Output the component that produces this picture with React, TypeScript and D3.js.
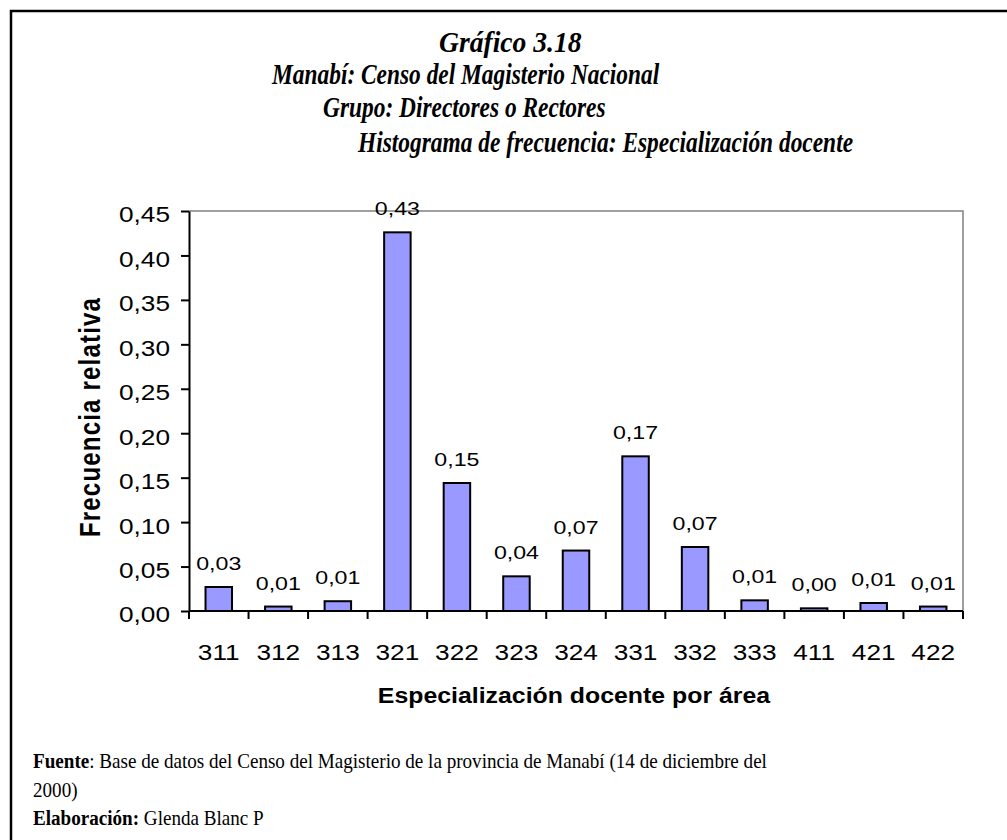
import React, { useEffect, useRef } from "react";
import * as d3 from "d3";

const categories = ["311", "312", "313", "321", "322", "323", "324", "331", "332", "333", "411", "421", "422"];
const values = [0.027, 0.005, 0.011, 0.426, 0.144, 0.039, 0.068, 0.174, 0.072, 0.012, 0.003, 0.009, 0.005];
const valueLabels = ["0,03", "0,01", "0,01", "0,43", "0,15", "0,04", "0,07", "0,17", "0,07", "0,01", "0,00", "0,01", "0,01"];
const yTicks = [0, 0.05, 0.1, 0.15, 0.2, 0.25, 0.3, 0.35, 0.4, 0.45];
const titleLines = [
  "Gráfico 3.18",
  "Manabí: Censo del Magisterio Nacional",
  "Grupo: Directores o Rectores",
  "Histograma de frecuencia: Especialización docente",
];
const yTitle = "Frecuencia relativa";
const xTitle = "Especialización docente por área";
const sourceBold = "Fuente";
const sourceText = ": Base de datos del Censo del Magisterio de la provincia de Manabí (14 de diciembre del";
const sourceText2 = "2000)";
const authorBold = "Elaboración";
const authorText = ": Glenda Blanc P";

const SANS = "'Liberation Sans', Arial, sans-serif";
const SERIF = "'Liberation Serif', 'Times New Roman', serif";

export default function App() {
  const ref = useRef<SVGSVGElement>(null);

  useEffect(() => {
    const W = 1007, H = 840;
    const svg = d3.select(ref.current);
    svg.selectAll("*").remove();
    const m = { left: 189, right: 963, top: 211, bottom: 611 };
    const sx = 1.22;

    svg.append("rect").attr("width", W).attr("height", H).attr("fill", "#fff");
    svg.append("path").attr("d", `M11,${H + 5}V11H${W + 5}`).attr("fill", "none")
      .attr("stroke", "#000").attr("stroke-width", 2.5);

    const tpos = [
      { x: 439, y: 52, s: 0.92 },
      { x: 272, y: 84, s: 0.78 },
      { x: 323, y: 117, s: 0.78 },
      { x: 358, y: 152, s: 0.78 },
    ];
    titleLines.forEach((t, i) => {
      svg.append("text").attr("transform", `translate(${tpos[i].x},${tpos[i].y}) scale(${tpos[i].s},1)`)
        .attr("font-family", SERIF).attr("font-weight", "bold").attr("font-style", "italic")
        .attr("font-size", 30).attr("fill", "#000").text(t);
    });

    const x = d3.scaleBand<string>().domain(categories).range([m.left, m.right])
      .paddingInner(0.555).paddingOuter(0.2775);
    const y = d3.scaleLinear().domain([0, 0.45]).range([m.bottom, m.top]);

    svg.append("path").attr("d", `M${m.left},${m.top}H${m.right}V${m.bottom}`)
      .attr("fill", "none").attr("stroke", "#808080").attr("stroke-width", 1.5);

    svg.append("g").selectAll("rect").data(values).join("rect")
      .attr("x", (_d, i) => x(categories[i]) as number)
      .attr("y", (d) => y(d))
      .attr("width", x.bandwidth())
      .attr("height", (d) => y(0) - y(d))
      .attr("fill", "#9999FF").attr("stroke", "#000").attr("stroke-width", 2);

    // y axis
    const fmt = (d: number) => d3.format(".2f")(d).replace(".", ",");
    const gy = svg.append("g").attr("transform", `translate(${m.left},0)`)
      .call(d3.axisLeft(y).tickValues(yTicks).tickSize(8).tickSizeOuter(0).tickFormat(fmt as any));
    gy.attr("font-family", SANS).attr("font-size", 21.5);
    gy.select(".domain").attr("stroke", "#000").attr("stroke-width", 2);
    gy.selectAll(".tick line").attr("stroke", "#000").attr("stroke-width", 2);
    gy.selectAll(".tick text").attr("x", 0).attr("dy", "0.32em").attr("fill", "#000")
      .attr("transform", `translate(-19,4) scale(${sx},1)`);

    // x axis
    const gx = svg.append("g").attr("transform", `translate(0,${m.bottom})`)
      .call(d3.axisBottom(x).tickSize(0).tickPadding(0));
    gx.attr("font-family", SANS).attr("font-size", 21.5);
    gx.select(".domain").remove();
    gx.selectAll(".tick text").attr("y", 0).attr("dy", 0).attr("fill", "#000")
      .attr("transform", `translate(0,49) scale(${sx},1)`);
    gx.append("line").attr("x1", m.left).attr("x2", m.right).attr("y1", 0).attr("y2", 0)
      .attr("stroke", "#000").attr("stroke-width", 2);
    gx.selectAll("line.bound").data(d3.range(categories.length + 1)).join("line")
      .attr("class", "bound")
      .attr("x1", (i) => m.left + i * x.step()).attr("x2", (i) => m.left + i * x.step())
      .attr("y1", 0).attr("y2", 8).attr("stroke", "#000").attr("stroke-width", 2);

    // data labels
    svg.append("g").selectAll("text").data(values).join("text")
      .attr("transform", (d, i) => `translate(${(x(categories[i]) as number) + x.bandwidth() / 2},${y(d) - 17}) scale(${sx},1)`)
      .attr("text-anchor", "middle").attr("font-family", SANS).attr("font-size", 19)
      .attr("fill", "#000").text((_d, i) => valueLabels[i]);

    // axis titles
    svg.append("text").attr("transform", `translate(100,417) scale(${sx},1) rotate(-90)`)
      .attr("text-anchor", "middle").attr("font-family", SANS).attr("font-weight", "bold")
      .attr("font-size", 24).attr("letter-spacing", 1.2).attr("fill", "#000").text(yTitle);
    svg.append("text").attr("transform", `translate(${(m.left + m.right) / 2 - 2},703) scale(1.13,1)`)
      .attr("text-anchor", "middle").attr("font-family", SANS).attr("font-weight", "bold")
      .attr("font-size", 22).attr("fill", "#000").text(xTitle);

    // footer
    const fs = 0.91;
    const ffs = 21;
    const f1 = svg.append("text").attr("transform", `translate(33,768) scale(${fs},1)`)
      .attr("font-family", SERIF).attr("font-size", ffs).attr("fill", "#000");
    f1.append("tspan").attr("font-weight", "bold").text(sourceBold);
    f1.append("tspan").text(sourceText);
    svg.append("text").attr("transform", `translate(33,797) scale(${fs},1)`)
      .attr("font-family", SERIF).attr("font-size", ffs).attr("fill", "#000").text(sourceText2);
    const f3 = svg.append("text").attr("transform", `translate(33,825) scale(${fs},1)`)
      .attr("font-family", SERIF).attr("font-size", ffs).attr("fill", "#000");
    f3.append("tspan").attr("font-weight", "bold").text(authorBold + ":");
    f3.append("tspan").text(authorText.slice(1));
  }, []);

  return (
    <svg ref={ref} width={1007} height={840}
      style={{ position: "absolute", left: 0, top: 0, display: "block" }} />
  );
}
